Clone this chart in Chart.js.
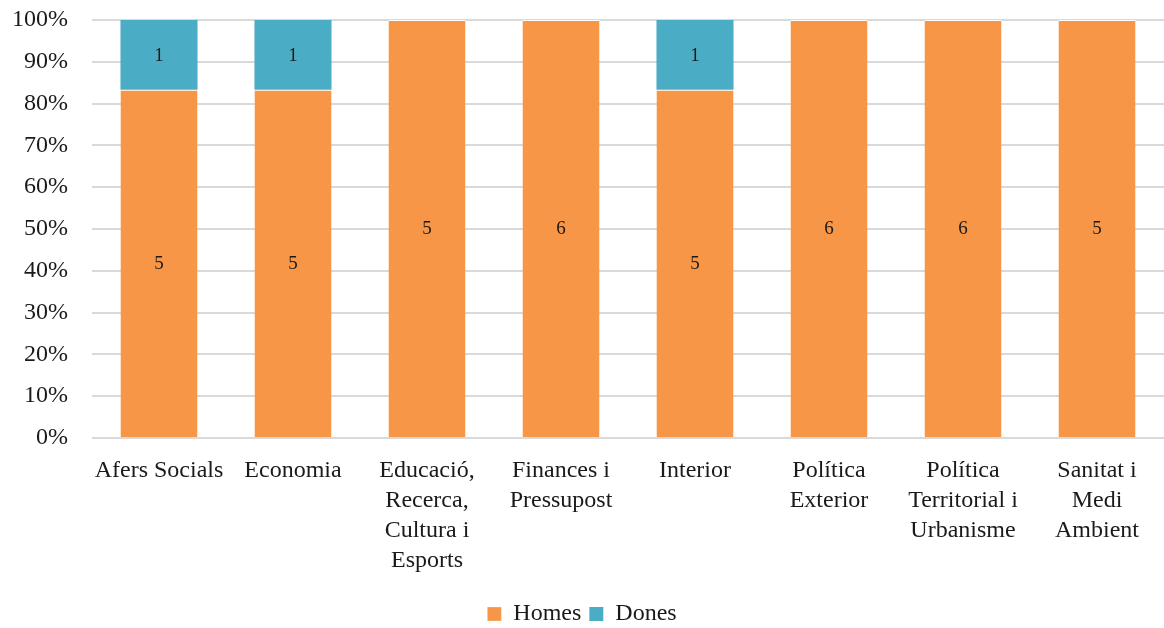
<!DOCTYPE html>
<html>
<head>
<meta charset="utf-8">
<script src="https://cdn.jsdelivr.net/npm/chart.js@4.4.0/dist/chart.umd.min.js"></script>
<style>
  html, body { margin: 0; padding: 0; background: #fff; }
  #wrap { width: 1164px; height: 628px; }
</style>
</head>
<body>
<div id="wrap"><canvas id="myChart"></canvas></div>
<script>
// Categories (multi-line labels) and counts per series
const categories = [
    ['Afers Socials'],
    ['Economia'],
    ['Educació,', 'Recerca,', 'Cultura i', 'Esports'],
    ['Finances i', 'Pressupost'],
    ['Interior'],
    ['Política', 'Exterior'],
    ['Política', 'Territorial i', 'Urbanisme'],
    ['Sanitat i', 'Medi', 'Ambient']
];
const homes = [5, 5, 5, 6, 5, 6, 6, 5];
const dones = [1, 1, 0, 0, 1, 0, 0, 0];
const yTicks = [0, 10, 20, 30, 40, 50, 60, 70, 80, 90, 100];

// Share of each category total, in percent
const totals = homes.map((h, i) => h + dones[i]);
const homesPct = homes.map((h, i) => h / totals[i] * 100);
const donesPct = dones.map((d, i) => d / totals[i] * 100);

const FONT = "'Liberation Serif', 'DejaVu Serif', serif";

// Writes the raw count in the middle of each segment
const countLabels = {
    id: 'countLabels',
    afterDatasetsDraw(chart) {
        const ctx = chart.ctx;
        ctx.save();
        ctx.font = '19px ' + FONT;
        ctx.fillStyle = '#1a1a1a';
        ctx.textAlign = 'center';
        ctx.textBaseline = 'middle';
        chart.data.datasets.forEach((ds, di) => {
            const meta = chart.getDatasetMeta(di);
            meta.data.forEach((bar, i) => {
                const n = ds.counts[i];
                if (!n) return;
                const mid = (bar.y + bar.base) / 2;
                ctx.fillText(String(n), bar.x, mid + 1);
            });
        });
        ctx.restore();
    }
};

const ctx = document.getElementById('myChart').getContext('2d');
new Chart(ctx, {
    type: 'bar',
    data: {
        labels: categories,
        datasets: [
            {
                label: 'Homes',
                data: homesPct,
                counts: homes,
                backgroundColor: '#F79646',
                borderColor: '#ffffff',
                borderWidth: { top: 1 },
                borderSkipped: false
            },
            {
                label: 'Dones',
                data: donesPct,
                counts: dones,
                backgroundColor: '#4BACC6',
                borderWidth: 0
            }
        ]
    },
    options: {
        responsive: true,
        maintainAspectRatio: false,
        animation: false,
        layout: { padding: { top: 20, right: 0, bottom: -8, left: 0 } },
        datasets: {
            bar: { barPercentage: 0.575, categoryPercentage: 1.0 }
        },
        scales: {
            x: {
                stacked: true,
                grid: { display: false, drawTicks: false },
                border: { display: false },
                ticks: {
                    color: '#1a1a1a',
                    font: { family: FONT, size: 24, lineHeight: 1.25 },
                    padding: 18,
                    maxRotation: 0,
                    autoSkip: false
                }
            },
            y: {
                stacked: true,
                min: 0,
                max: 100,
                afterBuildTicks(scale) {
                    scale.ticks = yTicks.map(v => ({ value: v }));
                },
                afterFit(scale) {
                    scale.width = 92;
                    scale.paddingTop = 0;
                    scale.paddingBottom = 0;
                },
                grid: { color: '#d9d9d9', lineWidth: 2, drawTicks: false },
                border: { display: false },
                ticks: {
                    color: '#1a1a1a',
                    font: { family: FONT, size: 24 },
                    padding: 24,
                    callback: v => v + '%'
                }
            }
        },
        plugins: {
            legend: {
                position: 'bottom',
                labels: {
                    color: '#1a1a1a',
                    font: { family: FONT, size: 24 },
                    boxWidth: 14,
                    boxHeight: 14,
                    padding: 8
                }
            },
            tooltip: { enabled: false }
        }
    },
    plugins: [countLabels]
});
</script>
</body>
</html>
